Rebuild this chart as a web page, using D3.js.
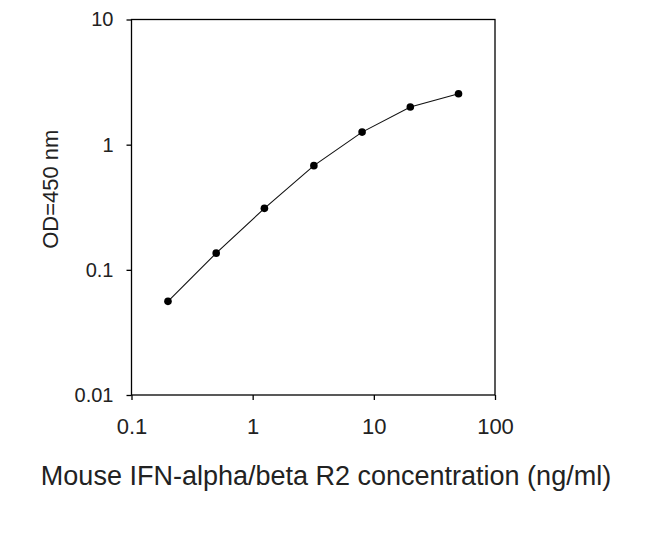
<!DOCTYPE html>
<html lang="en">
<head>
    <meta charset="UTF-8">
    <title>Mouse IFN-alpha/beta R2 standard curve</title>
    <script src="https://d3js.org/d3.v7.min.js"></script>
    <style>
        body {
            margin: 0;
            background-color: #fff;
            font-family: Arial, "Liberation Sans", sans-serif;
        }
        .axis path, .axis line {
            stroke: #000;
            stroke-width: 1.3px;
        }
        .axis text {
            fill: #222;
        }
        .title {
            fill: #222;
        }
    </style>
</head>
<body>
    <svg id="chart" width="650" height="550"></svg>
    <script>
        // concentrations (ng/ml) and OD readings
        const concentration = [0.2, 0.5, 1.25, 3.2, 8, 20, 50];
        const od450 = [0.056, 0.136, 0.31, 0.68, 1.26, 2.0, 2.55];
        const xTicks = [0.1, 1, 10, 100];
        const yTicks = [0.01, 0.1, 1, 10];

        const margin = {top: 19.5, right: 155, bottom: 155, left: 131.5};
        const width = 650 - margin.left - margin.right,
              height = 550 - margin.top - margin.bottom;

        const svg = d3.select("#chart")
            .append("g")
            .attr("transform", `translate(${margin.left},${margin.top})`);

        const x = d3.scaleLog().domain([0.1, 100]).range([0, width]);
        const y = d3.scaleLog().domain([0.01, 10]).range([height, 0]);

        // frame
        svg.append("rect")
            .attr("width", width)
            .attr("height", height)
            .attr("fill", "none")
            .attr("stroke", "#000")
            .attr("stroke-width", 1.3);

        const xAxis = svg.append("g")
            .attr("class", "axis")
            .attr("transform", `translate(0,${height})`)
            .call(d3.axisBottom(x).tickValues(xTicks).tickFormat(d3.format("~g")).tickSize(5).tickPadding(18));
        xAxis.selectAll("text").style("font-size", "22px");

        const yAxis = svg.append("g")
            .attr("class", "axis")
            .call(d3.axisLeft(y).tickValues(yTicks).tickFormat(d3.format("~g")).tickSize(5).tickPadding(13));
        yAxis.selectAll("text").style("font-size", "20px");
        svg.selectAll(".domain").remove();

        const data = concentration.map((c, i) => ({c, v: od450[i]}));

        svg.append("path")
            .datum(data)
            .attr("fill", "none")
            .attr("stroke", "#111")
            .attr("stroke-width", 1.1)
            .attr("d", d3.line().x(d => x(d.c)).y(d => y(d.v)));

        svg.selectAll("circle")
            .data(data)
            .enter().append("circle")
            .attr("cx", d => x(d.c))
            .attr("cy", d => y(d.v))
            .attr("r", 3.8)
            .attr("fill", "#000");

        // axis titles
        svg.append("text")
            .attr("class", "title")
            .attr("x", 326 - margin.left)
            .attr("y", height + 90)
            .attr("text-anchor", "middle")
            .style("font-size", "27px")
            .text("Mouse IFN-alpha/beta R2 concentration (ng/ml)");

        svg.append("text")
            .attr("class", "title")
            .attr("transform", `translate(-74,${height / 2 - 18}) rotate(-90)`)
            .attr("text-anchor", "middle")
            .style("font-size", "22px")
            .text("OD=450 nm");
    </script>
</body>
</html>
